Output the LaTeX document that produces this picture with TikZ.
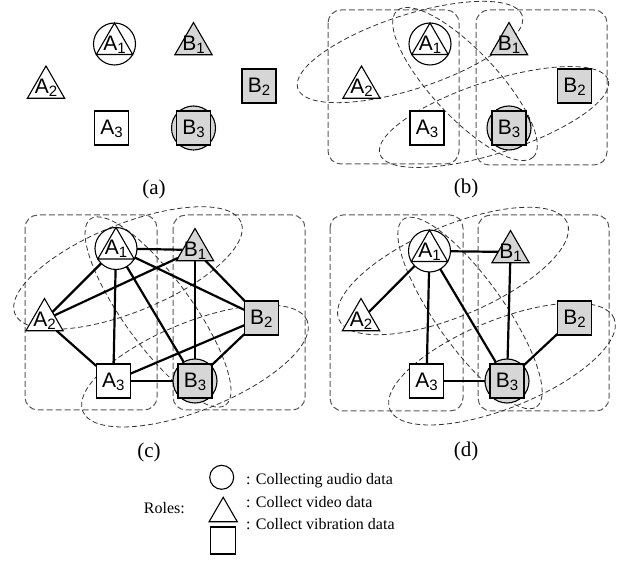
\documentclass[tikz,border=0pt]{standalone}
\usepackage{fontspec}
\setmainfont{Liberation Serif}
\newfontfamily\labelfont{Liberation Sans}
\usetikzlibrary{shapes.geometric}

\definecolor{rolegray}{gray}{0.84}
\definecolor{groupgray}{gray}{0.35}

% node label: letter with lowered index, no size of its own
\newcommand{\lbl}[2]{\smash{\makebox[0pt]{\raisebox{-6.5pt}{\labelfont\fontsize{21}{21}\selectfont #1\raisebox{-3pt}{\fontsize{15}{15}\selectfont #2}}}}}

\tikzset{
    audio/.style={circle, draw, line width=1.1pt, minimum size=42pt, inner sep=0pt, outer sep=0pt, fill=white},
    video/.style={regular polygon, regular polygon sides=3, draw, line width=1.1pt, minimum size=43pt, inner sep=0pt, outer sep=0pt, fill=white},
    vibration/.style={rectangle, draw, line width=1.1pt, minimum size=34pt, inner sep=0pt, outer sep=0pt, fill=white},
    bnode/.style={fill=rolegray},
    group/.style={draw=groupgray, line width=1pt, dash pattern=on 6pt off 3pt, rounded corners=13pt},
    pair/.style={draw=black!80, line width=0.8pt, dash pattern=on 5pt off 3pt},
    link/.style={line width=2.2pt},
    caption/.style={font=\fontsize{21}{21}\selectfont, inner sep=0pt},
    legend/.style={font=\fontsize{16}{16}\selectfont, inner sep=0pt}
}

\begin{document}
\begin{tikzpicture}[x=1pt, y=-1pt]
    \useasboundingbox (0,0) rectangle (622,561);

    % Panel (a)
    \node[audio] (aA1) at (114.5,44) {};
    \node[video, minimum size=42pt] (aA1t) at (aA1) {\lbl{A}{1}};
    \node[video, bnode] (aB1) at (193.5,44) {\lbl{B}{1}};
    \node[video] (aA2) at (46,87.5) {\lbl{A}{2}};
    \node[vibration, bnode] (aB2) at (259,86) {\lbl{B}{2}};
    \node[vibration] (aA3) at (111.5,128) {\lbl{A}{3}};
    \node[audio, bnode, minimum size=44pt] (aB3) at (193.5,128) {};
    \node[vibration, bnode] (aB3s) at (aB3) {\lbl{B}{3}};
    \node[caption] (acap) at (154,189) {(a)};

    % Panel (b): groups
    \draw[group] (328,10) rectangle (459,164);
    \draw[group] (476,10) rectangle (607,165);
    \draw[pair, rotate around={18:(410,52)}] (410,52) ellipse [x radius=118pt, y radius=37pt];
    \draw[pair, rotate around={-47:(465,84)}] (465,84) ellipse [x radius=100pt, y radius=33pt];
    \draw[pair, rotate around={18:(494,117)}] (494,117) ellipse [x radius=120pt, y radius=36pt];

    % Panel (b): nodes
    \node[audio] (bA1) at (430,44) {};
    \node[video, minimum size=42pt] (bA1t) at (bA1) {\lbl{A}{1}};
    \node[video, bnode] (bB1) at (509,44) {\lbl{B}{1}};
    \node[video] (bA2) at (361.5,87.5) {\lbl{A}{2}};
    \node[vibration, bnode] (bB2) at (574.5,86) {\lbl{B}{2}};
    \node[vibration] (bA3) at (427,128) {\lbl{A}{3}};
    \node[audio, bnode, minimum size=44pt] (bB3) at (509,128) {};
    \node[vibration, bnode] (bB3s) at (bB3) {\lbl{B}{3}};
    \node[caption] (bcap) at (466,188) {(b)};

    % Panel (c): groups
    \draw[group] (25,215) rectangle (157,410);
    \draw[group] (173,215) rectangle (305,410);
    \draw[pair, rotate around={22:(128,268)}] (128,268) ellipse [x radius=122pt, y radius=44pt];
    \draw[pair, rotate around={-54:(158,312)}] (158,312) ellipse [x radius=115pt, y radius=34pt];
    \draw[pair, rotate around={22:(195,366)}] (195,366) ellipse [x radius=121pt, y radius=44pt];

    % Panel (c): nodes
    \node[audio] (cA1) at (116,248.5) {};
    \node[video, minimum size=42pt] (cA1t) at (cA1) {\lbl{A}{1}};
    \node[video, bnode] (cB1) at (195,250) {\lbl{B}{1}};
    \node[video] (cA2) at (44.5,320) {\lbl{A}{2}};
    \node[vibration, bnode] (cB2) at (261.3,318) {\lbl{B}{2}};
    \node[vibration] (cA3) at (113.3,381) {\lbl{A}{3}};
    \node[audio, bnode, minimum size=44pt] (cB3) at (195,381) {};
    \node[vibration, bnode] (cB3s) at (cB3) {\lbl{B}{3}};
    \node[caption] (ccap) at (149,452) {(c)};

    % Panel (c): links
    \draw[link] (cA1) -- (cB1);
    \draw[link] (cA1) -- (cA2);
    \draw[link] (cA1) -- (cA3);
    \draw[link] (cA1) -- (cB3);
    \draw[link] (cA1) -- (cB2);
    \draw[link] (cA2) -- (cB1);
    \draw[link] (cA2) -- (cA3);
    \draw[link] (cB1) -- (cB3);
    \draw[link] (cB1) -- (cB2);
    \draw[link] (cA3) -- (cB2);
    \draw[link] (cA3) -- (cB3);
    \draw[link] (cB2) -- (cB3);

    % Panel (d): groups
    \draw[group] (330,215) rectangle (463,411);
    \draw[group] (478,215) rectangle (609,411);
    \draw[pair, rotate around={23:(453,271)}] (453,271) ellipse [x radius=124pt, y radius=45pt];
    \draw[pair, rotate around={-54.6:(470,313)}] (470,313) ellipse [x radius=115pt, y radius=34pt];
    \draw[pair, rotate around={22:(502,364)}] (502,364) ellipse [x radius=121pt, y radius=44pt];

    % Panel (d): nodes
    \node[audio] (dA1) at (429.5,251) {};
    \node[video, minimum size=42pt] (dA1t) at (dA1) {\lbl{A}{1}};
    \node[video, bnode] (dB1) at (510.5,252) {\lbl{B}{1}};
    \node[video] (dA2) at (361,320) {\lbl{A}{2}};
    \node[vibration, bnode] (dB2) at (574.5,318) {\lbl{B}{2}};
    \node[vibration] (dA3) at (426.5,381) {\lbl{A}{3}};
    \node[audio, bnode, minimum size=44pt] (dB3) at (507,381) {};
    \node[vibration, bnode] (dB3s) at (dB3) {\lbl{B}{3}};
    \node[caption] (dcap) at (466,451) {(d)};

    % Panel (d): links
    \draw[link] (dA1) -- (dB1);
    \draw[link] (dA1) -- (dA2);
    \draw[link] (dA1) -- (dA3);
    \draw[link] (dA1) -- (dB3);
    \draw[link] (dB1) -- (dB3);
    \draw[link] (dA3) -- (dB3);
    \draw[link] (dB3) -- (dB2);

    % Legend
    \node[audio, minimum size=24pt] (kA) at (221.7,477.3) {};
    \node[video, minimum size=32.6pt] (kV) at (223.2,513.6) {};
    \node[vibration, minimum width=25pt, minimum height=27pt] (kS) at (223,540.5) {};
    \node[legend, anchor=base west] (tA) at (246,485) {: Collecting audio data};
    \node[legend, anchor=base west] (tV) at (246,508) {: Collect video data};
    \node[legend, anchor=base west] (tS) at (246,530) {: Collect vibration data};
    \node[legend, anchor=base east] (roles) at (185,514) {Roles:};
\end{tikzpicture}
\end{document}
